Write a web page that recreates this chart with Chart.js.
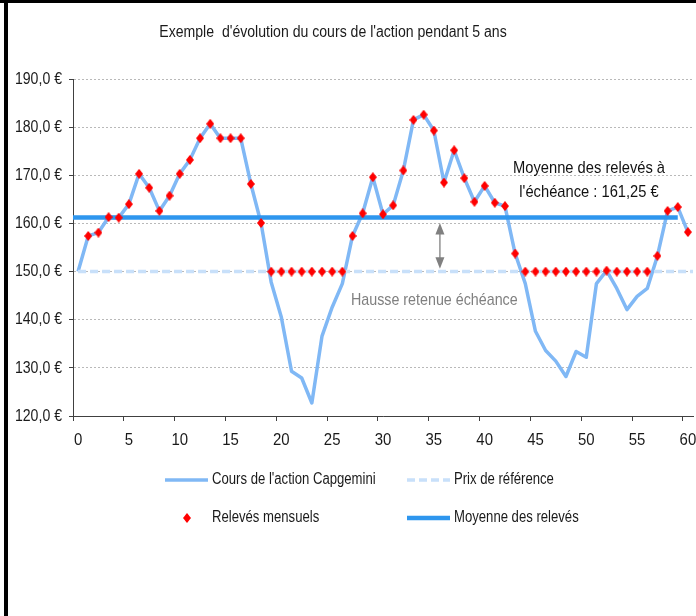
<!DOCTYPE html>
<html><head><meta charset="utf-8">
<script src="https://cdn.jsdelivr.net/npm/chart.js@4.4.1/dist/chart.umd.min.js"></script>
<style>html,body{margin:0;padding:0;background:#fff;overflow:hidden}#wrap{position:relative;width:696px;height:616px}</style>
</head><body><div id="wrap"><canvas id="c" width="696" height="616"></canvas></div>
<script>
// ---- data ----
const categories = [0,1,2,3,4,5,6,7,8,9,10,11,12,13,14,15,16,17,18,19,20,21,22,23,24,25,26,27,28,29,30,
  31,32,33,34,35,36,37,38,39,40,41,42,43,44,45,46,47,48,49,50,51,52,53,54,55,56,57,58,59,60];
const coursAction = [150,157.4,158.1,161.3,161.2,164.0,170.3,167.4,162.6,165.75,170.3,
  173.2,177.7,180.7,177.7,177.7,177.7,168.2,160.1,147.8,140.5,
  129.3,127.9,122.7,136.6,142.6,147.5,157.4,162.1,169.6,161.9,
  163.75,171.0,181.5,182.6,179.3,168.5,175.2,169.4,164.5,167.8,
  164.3,163.6,153.75,147.5,137.6,133.6,131.4,128.2,133.4,132.2,
  147.5,150.2,146.5,142.1,144.85,146.5,153.25,162.6,163.4,158.2];
const relevesMensuels = [null,157.4,158.1,161.3,161.2,164.0,170.3,167.4,162.6,165.75,170.3,
  173.2,177.7,180.7,177.7,177.7,177.7,168.2,160.1,150,150,
  150,150,150,150,150,150,157.4,162.1,169.6,161.9,
  163.75,171.0,181.5,182.6,179.3,168.5,175.2,169.4,164.5,167.8,
  164.3,163.6,153.75,150,150,150,150,150,150,150,
  150,150.2,150,150,150,150,153.25,162.6,163.4,158.2];
const prixReference = 150;
const moyenneReleves = 161.25;
const refLineSpan = [0, 60.5];
const meanLineSpan = [-0.5, 59];
const yMin = 120, yMax = 190, yStep = 10;
const xTickEvery = 5;
const arrowAt = 35.6, arrowFrom = 160.1, arrowTo = 150.6;

const titleText = "Exemple  d'évolution du cours de l'action pendant 5 ans";
const noteMean = ["Moyenne des relevés à", "l'échéance : 161,25 €"];
const noteHausse = "Hausse retenue échéance";

// ---- styles ----
const FONT = "'Liberation Sans',Arial,sans-serif";
const C_PRICE = 'rgb(128,184,245)';
const C_REF = 'rgb(200,224,250)';
const C_MEAN = 'rgb(46,150,238)';
const C_DOT = 'rgb(255,0,0)';
const C_TEXT = '#1a1a1a';

function makeDiamond(w, h, color) {
  const cv = document.createElement('canvas');
  cv.width = w; cv.height = h;
  const g = cv.getContext('2d');
  g.fillStyle = color;
  g.beginPath();
  g.moveTo(w/2, 0); g.lineTo(w, h/2); g.lineTo(w/2, h); g.lineTo(0, h/2); g.closePath();
  g.fill();
  return cv;
}
const diamond = makeDiamond(8, 10, C_DOT);

// condensed text (narrow font emulation)
function txt(ctx, s, x, y, size, align, color, sx) {
  ctx.save();
  ctx.translate(x, y);
  ctx.scale(sx, 1);
  ctx.font = size + 'px ' + FONT;
  ctx.textAlign = align;
  ctx.textBaseline = 'middle';
  ctx.fillStyle = color;
  ctx.fillText(s, 0, 0);
  ctx.restore();
}

const decorPlugin = {
  id: 'decor',
  afterDraw(chart) {
    const ctx = chart.ctx;
    const xs = chart.scales.x2, ys = chart.scales.y, xc = chart.scales.x;
    ctx.save();
    // frame
    ctx.fillStyle = '#000';
    ctx.fillRect(0, 0, 696, 3);
    ctx.fillRect(4, 0, 4, 616);
    // title
    txt(ctx, titleText, 333, 33, 16, 'center', C_TEXT, 0.88);
    // axis labels
    ys.ticks.forEach((t, i) => {
      txt(ctx, t.value.toFixed(1).replace('.', ',') + ' €', ys.right - 11, ys.getPixelForTick(i), 17, 'right', C_TEXT, 0.83);
    });
    xc.ticks.forEach((t, i) => {
      if (i % xTickEvery === 0) txt(ctx, String(categories[i]), xc.getPixelForTick(i), xc.top + 24, 17, 'center', C_TEXT, 0.88);
    });
    // notes
    txt(ctx, noteMean[0], xs.getPixelForValue(50.27), ys.getPixelForValue(171.5), 17, 'center', '#111', 0.865);
    txt(ctx, noteMean[1], xs.getPixelForValue(50.27), ys.getPixelForValue(166.5), 17, 'center', '#111', 0.865);
    txt(ctx, noteHausse, xs.getPixelForValue(26.85), ys.getPixelForValue(144.0), 17, 'left', 'rgb(128,128,128)', 0.84);
    // arrow
    const ax = xs.getPixelForValue(arrowAt);
    const y1 = ys.getPixelForValue(arrowFrom), y2 = ys.getPixelForValue(arrowTo);
    ctx.strokeStyle = 'rgb(128,128,128)'; ctx.fillStyle = 'rgb(128,128,128)';
    ctx.lineWidth = 1.3;
    ctx.beginPath(); ctx.moveTo(ax, y1 + 10); ctx.lineTo(ax, y2 - 10); ctx.stroke();
    ctx.beginPath(); ctx.moveTo(ax, y1); ctx.lineTo(ax + 4.5, y1 + 11.5); ctx.lineTo(ax - 4.5, y1 + 11.5); ctx.closePath(); ctx.fill();
    ctx.beginPath(); ctx.moveTo(ax, y2); ctx.lineTo(ax + 4.5, y2 - 11.5); ctx.lineTo(ax - 4.5, y2 - 11.5); ctx.closePath(); ctx.fill();
    // legend
    const ds = chart.data.datasets;
    const items = [
      {d: ds[3], x: 165, y: 480},
      {d: ds[2], x: 407, y: 480},
      {d: ds[0], x: 165, y: 518},
      {d: ds[1], x: 407, y: 518}
    ];
    items.forEach(it => {
      const d = it.d;
      if (d.showLine === false) {
        ctx.drawImage(diamond, it.x + 22 - 4, it.y - 5);
      } else {
        ctx.save();
        ctx.strokeStyle = d.borderColor; ctx.lineWidth = d.borderWidth;
        ctx.setLineDash(d.borderDash || []);
        ctx.beginPath(); ctx.moveTo(it.x, it.y); ctx.lineTo(it.x + 43, it.y); ctx.stroke();
        ctx.restore();
      }
      txt(ctx, d.label, it.x + 47, it.y, 16, 'left', C_TEXT, 0.82);
    });
    ctx.restore();
  }
};

new Chart(document.getElementById('c'), {
  type: 'line',
  data: {
    labels: categories,
    datasets: [
      { label: 'Relevés mensuels', data: relevesMensuels, showLine: false,
        pointStyle: diamond, pointRadius: 5, pointHoverRadius: 5,
        backgroundColor: C_DOT, borderColor: C_DOT, order: 0 },
      { label: 'Moyenne des relevés', xAxisID: 'x2',
        data: meanLineSpan.map(x => ({x: x, y: moyenneReleves})),
        borderColor: C_MEAN, borderWidth: 4.5, pointRadius: 0, order: 1 },
      { label: 'Prix de référence', xAxisID: 'x2',
        data: refLineSpan.map(x => ({x: x, y: prixReference})),
        borderColor: C_REF, borderWidth: 3.5, borderDash: [8, 4], pointRadius: 0, order: 2 },
      { label: "Cours de l'action Capgemini", data: coursAction,
        borderColor: C_PRICE, borderWidth: 3.5, pointRadius: 0, tension: 0,
        borderJoinStyle: 'round', order: 3 }
    ]
  },
  options: {
    responsive: false,
    devicePixelRatio: 1,
    animation: false,
    events: [],
    layout: { autoPadding: false, padding: { left: 0, top: 79, right: 3, bottom: 170 } },
    plugins: { legend: { display: false }, tooltip: { enabled: false }, title: { display: false } },
    scales: {
      x: {
        type: 'category', offset: true,
        grid: { offset: true, drawOnChartArea: false, tickLength: 5,
          tickColor: c => (c.index % xTickEvery === 0 && c.index <= 60) ? '#404040' : 'rgba(0,0,0,0)' },
        border: { color: '#404040', width: 1 },
        ticks: { display: false, autoSkip: false, maxRotation: 0 },
        afterFit: s => { s.height = 30; }
      },
      x2: { type: 'linear', display: false, min: -0.5, max: 60.5 },
      y: {
        min: yMin, max: yMax,
        grid: { color: 'rgb(185,185,185)', lineWidth: 1, tickLength: 4, tickColor: '#404040', tickBorderDash: [] },
        border: { color: '#404040', width: 1, dash: [2, 2] },
        ticks: { display: false, stepSize: yStep },
        afterFit: s => { s.width = 73; }
      }
    }
  },
  plugins: [decorPlugin]
});
</script>
</body></html>
